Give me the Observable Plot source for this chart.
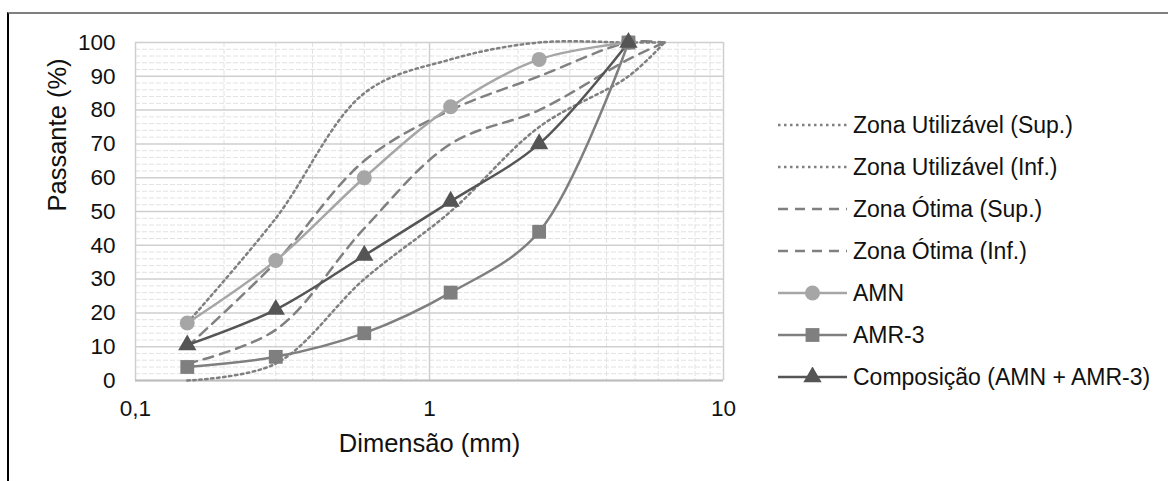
<!DOCTYPE html>
<html><head><meta charset="utf-8">
<script src="https://cdn.jsdelivr.net/npm/d3@7"></script>
<script src="https://cdn.jsdelivr.net/npm/@observablehq/plot@0.6"></script>
<style>
body{margin:0;background:#fff;font-family:"Liberation Sans",Arial,sans-serif;}
#wrap{position:relative;width:1168px;height:481px;overflow:hidden;background:#fff}
#frame{position:absolute;left:7px;top:12px;width:1170px;height:480px;border-top:2px solid #7f7f7f;border-left:2px solid #000;}
#chart{position:absolute;left:0;top:0}
#legend{position:absolute;left:778px;top:0}
.row{position:absolute;left:0;height:42px;display:flex;align-items:center;white-space:nowrap;font-size:23px;color:#111}
.row svg{margin-right:6px;flex:none}
</style></head><body><div id="wrap"><div id="frame"></div><div id="chart"></div><div id="legend"></div></div>
<script>
// ---- data ----
const sieveSizes = [0.15, 0.3, 0.6, 1.18, 2.36, 4.75];
const zoneSizes  = [0.15, 0.3, 0.6, 1.18, 2.36, 4.75, 6.3];
const utilSup  = [17, 48, 85, 95, 100, 100, 100];
const utilInf  = [0, 5, 30, 50, 75, 90, 100];
const otimaSup = [10, 35, 65, 80, 90, 100, 100];
const otimaInf = [5, 15, 45, 70, 80, 95, 100];
const amn  = [17, 35.5, 60, 81, 95, 100];
const amr3 = [4, 7, 14, 26, 44, 100];
const comp = [10.5, 21, 37, 53, 70, 100];
const seriesNames = ["Zona Utilizável (Sup.)", "Zona Utilizável (Inf.)", "Zona Ótima (Sup.)", "Zona Ótima (Inf.)", "AMN", "AMR-3", "Composição (AMN + AMR-3)"];
const xTicks = [0.1, 1, 10];
const xMinor = [0.2,0.3,0.4,0.5,0.6,0.7,0.8,0.9,2,3,4,5,6,7,8,9];
const yTicks = [0,10,20,30,40,50,60,70,80,90,100];
const yMinor = [2,4,6,8,12,14,16,18,22,24,26,28,32,34,36,38,42,44,46,48,52,54,56,58,62,64,66,68,72,74,76,78,82,84,86,88,92,94,96,98];

// ---- styles ----
const styles = [
  {sizes: zoneSizes, values: utilSup, stroke: "#808080", dash: "2.5,3.5", width: 2.5},
  {sizes: zoneSizes, values: utilInf, stroke: "#808080", dash: "2.5,3.5", width: 2.5},
  {sizes: zoneSizes, values: otimaSup, stroke: "#808080", dash: "10,7", width: 2.5},
  {sizes: zoneSizes, values: otimaInf, stroke: "#808080", dash: "10,7", width: 2.5},
  {sizes: sieveSizes, values: amn, stroke: "#a6a6a6", dash: null, width: 2.5, symbol: "circle", r: 7.5},
  {sizes: sieveSizes, values: amr3, stroke: "#7f7f7f", dash: null, width: 2.5, symbol: "square", r: 7.8},
  {sizes: sieveSizes, values: comp, stroke: "#555555", dash: null, width: 2.5, symbol: "triangle", r: 6.8}
];
const series = styles.map((s, i) => ({...s, name: seriesNames[i], data: s.sizes.map((x, j) => ({x, y: s.values[j]}))}));

const lineMarks = series.map(s => Plot.line(s.data, {x: "x", y: "y", stroke: s.stroke, strokeWidth: s.width, strokeDasharray: s.dash || undefined, curve: "catmull-rom"}));
const dotMarks = series.filter(s => s.symbol).map(s => Plot.dot(s.data, {x: "x", y: "y", symbol: s.symbol, r: s.r, fill: s.stroke, stroke: "none"}));

const chart = Plot.plot({
  width: 760, height: 481,
  marginLeft: 135, marginRight: 37, marginTop: 42, marginBottom: 101,
  style: {fontFamily: "'Liberation Sans', Arial, sans-serif", fontSize: "22.5px", color: "#111", background: "transparent"},
  x: {type: "log", domain: [0.1, 10]},
  y: {domain: [0, 100]},
  marks: [
    Plot.ruleY(yMinor, {stroke: "#e2e2e2", strokeDasharray: "5,2"}),
    Plot.ruleX(xMinor, {stroke: "#e2e2e2", strokeDasharray: "5,2"}),
    Plot.ruleY(yTicks, {stroke: "#cfcfcf", strokeWidth: 1.5}),
    Plot.ruleX(xTicks, {stroke: "#cfcfcf", strokeWidth: 1.5}),
    Plot.ruleY([0], {stroke: "#bdbdbd", strokeWidth: 2}),
    ...lineMarks,
    ...dotMarks,
    Plot.axisX({ticks: xTicks, tickSize: 0, tickPadding: 20, tickFormat: d => String(d).replace(".", ","), label: null}),
    Plot.axisY({ticks: yTicks, tickSize: 0, tickPadding: 20, label: null}),
    Plot.text(["Dimensão (mm)"], {text: d => d, frameAnchor: "bottom", dy: 71, fontSize: 25.5, fill: "#111"}),
    Plot.text(["Passante (%)"], {text: d => d, frameAnchor: "left", dx: -78, rotate: -90, fontSize: 25.5, fill: "#111"})
  ]
});
document.getElementById("chart").appendChild(chart);

// ---- legend ----
const legend = document.getElementById("legend");
const symbolPath = {circle: d3.symbolCircle, square: d3.symbolSquare, triangle: d3.symbolTriangle};
series.forEach((s, i) => {
  const row = document.createElement("div");
  row.className = "row";
  row.style.top = (125 + i * 42 - 21) + "px";
  const ns = "http://www.w3.org/2000/svg";
  const svg = document.createElementNS(ns, "svg");
  svg.setAttribute("width", 69); svg.setAttribute("height", 20);
  const line = document.createElementNS(ns, "line");
  line.setAttribute("x1", 0); line.setAttribute("x2", 69); line.setAttribute("y1", 10); line.setAttribute("y2", 10);
  line.setAttribute("stroke", s.stroke); line.setAttribute("stroke-width", s.width);
  if (s.dash) line.setAttribute("stroke-dasharray", s.dash);
  svg.appendChild(line);
  if (s.symbol) {
    const p = document.createElementNS(ns, "path");
    p.setAttribute("d", d3.symbol(symbolPath[s.symbol], Math.PI * s.r * s.r)());
    p.setAttribute("transform", "translate(34.5,10)");
    p.setAttribute("fill", s.stroke);
    svg.appendChild(p);
  }
  row.appendChild(svg);
  const t = document.createElement("span");
  t.textContent = s.name;
  row.appendChild(t);
  legend.appendChild(row);
});
</script></body></html>
